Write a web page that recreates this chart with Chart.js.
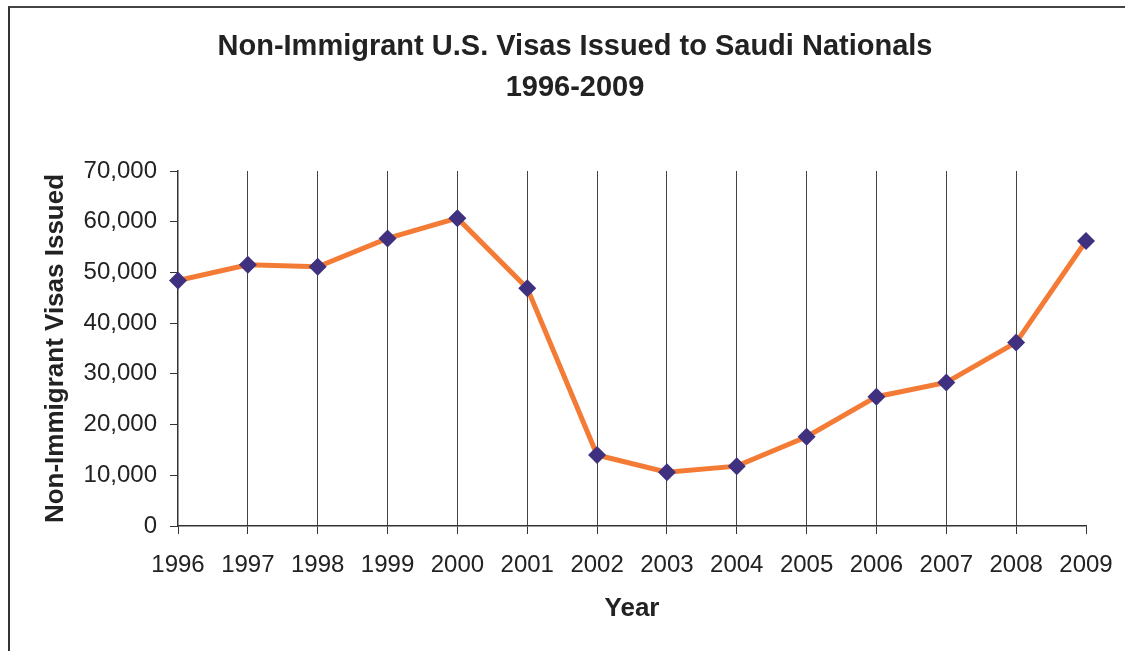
<!DOCTYPE html>
<html>
<head>
<meta charset="utf-8">
<script src="https://cdn.jsdelivr.net/npm/chart.js@4"></script>
<style>
    html, body { margin: 0; padding: 0; background: #fff; overflow: hidden; }
    #wrap { position: relative; width: 1125px; height: 651px; }
    #frame {
        position: absolute; left: 8px; top: 6px; width: 1200px; height: 700px;
        border-left: 2px solid #333; border-top: 2px solid #444;
    }
    canvas { position: absolute; left: 0; top: 0; }
</style>
</head>
<body>
<div id="wrap">
    <div id="frame"></div>
    <canvas id="visaChart" width="1125" height="651"></canvas>
</div>
<script>
// Data
const years = ['1996', '1997', '1998', '1999', '2000', '2001', '2002',
               '2003', '2004', '2005', '2006', '2007', '2008', '2009'];
const visasIssued = [48400, 51500, 51100, 56700, 60700, 46900, 14000,
                     10600, 11800, 17600, 25500, 28300, 36200, 56200];
const titleLines = ['Non-Immigrant U.S. Visas Issued to Saudi Nationals', '1996-2009'];

const FONT = "'Liberation Sans', Arial, sans-serif";

// Title drawn centred on the picture (not on the plot area)
const titlePlugin = {
    id: 'titleLines',
    afterDraw(chart) {
        const ctx = chart.ctx;
        ctx.save();
        ctx.fillStyle = '#222';
        ctx.font = 'bold 29px ' + FONT;
        ctx.textAlign = 'center';
        ctx.textBaseline = 'middle';
        titleLines.forEach((line, i) => {
            ctx.fillText(line, 575, 47 + i * 41);
        });
        ctx.restore();
    }
};

function createVisaChart() {
    const ctx = document.getElementById('visaChart').getContext('2d');

    new Chart(ctx, {
        type: 'line',
        data: {
            labels: years,
            datasets: [{
                label: 'Non-Immigrant Visas Issued',
                data: visasIssued,
                borderColor: '#F47B36',
                borderWidth: 5,
                tension: 0,
                fill: false,
                pointStyle: 'rectRot',
                pointRadius: 9,
                pointHoverRadius: 9,
                pointBackgroundColor: '#3F3180',
                pointBorderColor: '#3F3180',
                pointBorderWidth: 0
            }]
        },
        options: {
            responsive: false,
            animation: false,
            layout: {
                padding: { top: 171, left: 0, right: 39, bottom: 0 }
            },
            plugins: {
                legend: { display: false },
                tooltip: { enabled: false },
                title: { display: false }
            },
            scales: {
                x: {
                    offset: false,
                    afterFit: function(scale) {
                        scale.height = 125;
                        scale.paddingLeft = 0;
                        scale.paddingRight = 0;
                    },
                    grid: {
                        color: function(c) {
                            return (c.index === 0 || c.index === years.length - 1) ? 'rgba(0,0,0,0)' : '#444';
                        },
                        lineWidth: 1,
                        drawTicks: true,
                        tickLength: 8,
                        tickColor: '#333'
                    },
                    border: { display: true, color: '#333', width: 1.5 },
                    ticks: {
                        color: '#222',
                        padding: 17,
                        maxRotation: 0,
                        autoSkip: false,
                        font: { family: FONT, size: 24 }
                    },
                    title: {
                        display: true,
                        text: 'Year',
                        color: '#222',
                        padding: { top: 0, bottom: 27 },
                        font: { family: FONT, size: 26, weight: 'bold' }
                    }
                },
                y: {
                    min: 0,
                    max: 70000,
                    afterFit: function(scale) { scale.width = 178; },
                    grid: {
                        drawOnChartArea: false,
                        drawTicks: true,
                        tickLength: 8,
                        tickColor: '#333'
                    },
                    border: { display: true, color: '#333', width: 1.5 },
                    ticks: {
                        stepSize: 10000,
                        color: '#222',
                        padding: 13,
                        font: { family: FONT, size: 24 },
                        callback: function(value) {
                            return value.toLocaleString('en-US');
                        }
                    },
                    title: {
                        display: true,
                        text: 'Non-Immigrant Visas Issued',
                        color: '#222',
                        padding: { top: 40, bottom: 0 },
                        font: { family: FONT, size: 26, weight: 'bold' }
                    }
                }
            }
        },
        plugins: [titlePlugin]
    });
}

createVisaChart();
</script>
</body>
</html>
